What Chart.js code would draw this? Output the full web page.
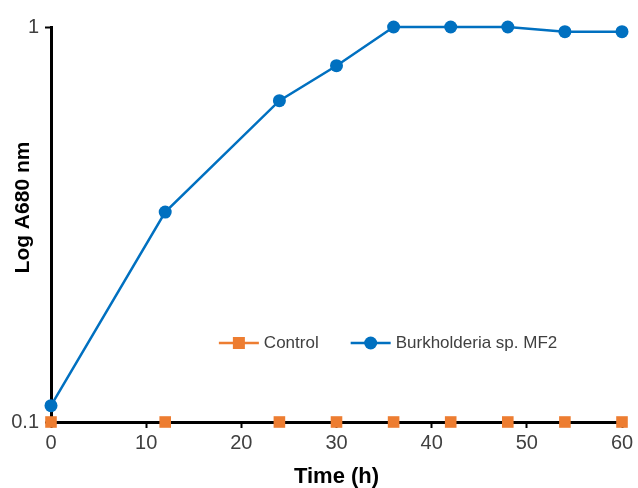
<!DOCTYPE html>
<html>
<head>
<meta charset="utf-8">
<script src="https://cdn.jsdelivr.net/npm/chart.js@4/dist/chart.umd.min.js"></script>
<style>
  html, body { margin: 0; padding: 0; background: #fff; }
  #wrap { width: 638px; height: 488px; position: relative; }
</style>
</head>
<body>
<div id="wrap"><canvas id="c" width="638" height="488"></canvas></div>
<script>
const timeHours = [0, 12, 24, 30, 36, 42, 48, 54, 60];
const controlValues = [0.1, 0.1, 0.1, 0.1, 0.1, 0.1, 0.1, 0.1, 0.1];
const burkholderiaValues = [0.110, 0.340, 0.651, 0.798, 1.0, 1.0, 1.0, 0.973, 0.973];
const yTickValues = [0.1, 1];
const xTickValues = [0, 10, 20, 30, 40, 50, 60];
const seriesNames = ['Control', 'Burkholderia sp. MF2'];
const axisTitles = { x: 'Time (h)', y: 'Log A680 nm' };

const ORANGE = '#ED7D31';
const BLUE = '#0070C0';
const TEXT = '#404040';
const FONT = "'Liberation Sans', Arial, sans-serif";

const toPoints = (xs, ys) => xs.map((x, i) => ({ x: x, y: ys[i] }));

const insideLegend = {
  id: 'insideLegend',
  afterDatasetsDraw(chart) {
    const ctx = chart.ctx;
    const area = chart.chartArea;
    let x = area.left + 0.294 * (area.right - area.left);
    const y = area.top + 0.8 * (area.bottom - area.top);
    ctx.save();
    ctx.font = '17px ' + FONT;
    ctx.textBaseline = 'middle';
    chart.data.datasets.forEach((ds) => {
      const lineLen = 40;
      ctx.strokeStyle = ds.legendLineColor;
      ctx.lineWidth = 2.5;
      ctx.beginPath();
      ctx.moveTo(x, y);
      ctx.lineTo(x + lineLen, y);
      ctx.stroke();
      ctx.fillStyle = ds.pointBackgroundColor;
      const cx = x + lineLen / 2;
      if (ds.pointStyle === 'rect') {
        ctx.fillRect(cx - 6, y - 6, 12, 12);
      } else {
        ctx.beginPath();
        ctx.arc(cx, y, 6.5, 0, Math.PI * 2);
        ctx.fill();
      }
      ctx.fillStyle = TEXT;
      ctx.fillText(ds.label, x + lineLen + 5, y);
      x += lineLen + 5 + ctx.measureText(ds.label).width + 32;
    });
    // y-axis title (rotated), placed like the reference
    ctx.fillStyle = '#000';
    ctx.font = 'bold 21px ' + FONT;
    ctx.textAlign = 'center';
    ctx.textBaseline = 'middle';
    ctx.translate(23, area.top + 0.457 * (area.bottom - area.top));
    ctx.rotate(-Math.PI / 2);
    ctx.fillText(axisTitles.y, 0, 0);
    ctx.restore();
  }
};

new Chart(document.getElementById('c'), {
  type: 'scatter',
  data: {
    datasets: [
      {
        label: seriesNames[0],
        data: toPoints(timeHours, controlValues),
        showLine: false,
        borderColor: ORANGE,
        legendLineColor: ORANGE,
        backgroundColor: ORANGE,
        pointBackgroundColor: ORANGE,
        pointBorderColor: ORANGE,
        pointStyle: 'rect',
        pointRadius: 8.2,
        pointBorderWidth: 0,
        clip: false,
        order: 2
      },
      {
        label: seriesNames[1],
        data: toPoints(timeHours, burkholderiaValues),
        showLine: true,
        tension: 0,
        borderColor: BLUE,
        legendLineColor: BLUE,
        borderWidth: 2.5,
        backgroundColor: BLUE,
        pointBackgroundColor: BLUE,
        pointBorderColor: BLUE,
        pointStyle: 'circle',
        pointRadius: 6.5,
        pointBorderWidth: 0,
        clip: false,
        order: 1
      }
    ]
  },
  options: {
    responsive: false,
    animation: false,
    devicePixelRatio: 1,
    layout: { padding: { top: 27, right: 16, bottom: 0, left: 0 } },
    plugins: { legend: { display: false }, tooltip: { enabled: false } },
    scales: {
      x: {
        type: 'linear',
        min: 0, max: 60,
        afterBuildTicks: (s) => { s.ticks = xTickValues.map(v => ({ value: v })); },
        afterFit: (s) => { s.height = 66; },
        grid: { drawOnChartArea: false, drawTicks: true, tickLength: 6, tickWidth: 2, color: '#000' },
        border: { display: true, color: '#000', width: 3 },
        ticks: { color: TEXT, font: { family: FONT, size: 20 }, padding: 3, maxRotation: 0 },
        title: { display: true, text: axisTitles.x, color: '#000', font: { family: FONT, size: 22, weight: 'bold', lineHeight: 1.0 }, padding: { top: 0, bottom: 0 } }
      },
      y: {
        type: 'logarithmic',
        min: 0.1, max: 1,
        afterBuildTicks: (s) => { s.ticks = yTickValues.map(v => ({ value: v })); },
        afterFit: (s) => { s.width = 51; },
        grid: { drawOnChartArea: false, drawTicks: true, tickLength: 6, tickWidth: 2, color: '#000' },
        border: { display: true, color: '#000', width: 3 },
        ticks: { color: TEXT, font: { family: FONT, size: 20 }, padding: 6, callback: (v) => String(v) },
        title: { display: false }
      }
    }
  },
  plugins: [insideLegend]
});
</script>
</body>
</html>
